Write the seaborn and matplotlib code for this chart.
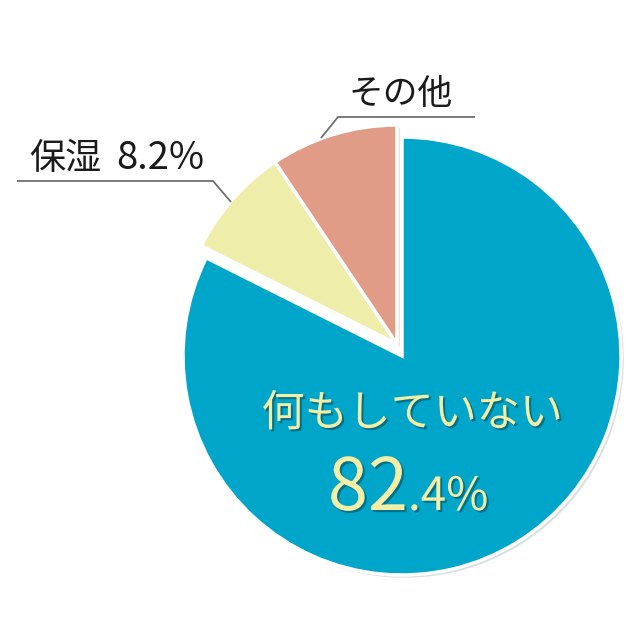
import matplotlib
matplotlib.use("Agg")
import matplotlib.pyplot as plt
import matplotlib.patheffects as pe
import seaborn as sns

# data
labels = ["何もしていない", "保湿", "その他"]
shares = [82.4, 8.2, 9.4]
colors = ["#00A6C9", "#EEEDA9", "#E09C86"]

sns.set_theme(style="white")
plt.rcParams["font.family"] = ["Noto Sans CJK JP", "DejaVu Sans"]

W, H = 642, 639
fig = plt.figure(figsize=(W / 100, H / 100), dpi=100)
ax = fig.add_axes([0, 0, 1, 1])

# pie in pixel units, starts at 12 o'clock going clockwise
cx, cy, r = 402, H - 356, 219
wedges, _ = ax.pie(
    shares, colors=colors, startangle=90, counterclock=False,
    center=(cx, cy), radius=r, frame=True,
    wedgeprops=dict(edgecolor="white", linewidth=2.5),
)
ax.set_xlim(0, W)
ax.set_ylim(0, H)
ax.set_aspect("equal")
ax.axis("off")

# the two small slices are pulled out together
shift = (-5, 12)
for w in wedges[1:]:
    w.set_center((cx + shift[0], cy + shift[1]))
for w in wedges:
    w.set_path_effects([pe.SimplePatchShadow(offset=(2, -2), alpha=0.15), pe.Normal()])

# leader lines
line_kw = dict(color="#707070", lw=1.3, solid_capstyle="butt")
ax.plot([321, 338, 475], [H - 138, H - 117, H - 117], **line_kw)
ax.plot([17, 213, 231], [H - 181, H - 181, H - 202], **line_kw)

# outside labels
ax.text(401, H - 104, labels[2], fontsize=25, color="#1a1a1a",
        ha="center", va="baseline")
ax.text(29, H - 169, labels[1], fontsize=26, color="#1a1a1a",
        ha="left", va="baseline")
ax.text(116, H - 169, f"{shares[1]}%", fontsize=27.5, color="#1a1a1a",
        ha="left", va="baseline")

# label inside the big slice
txt_color = "#F3EFA6"
shadow = [pe.SimplePatchShadow(offset=(1.5, -1.5), shadow_rgbFace="#003040", alpha=0.45),
          pe.Normal()]
ax.text(412, H - 426, labels[0], fontsize=31, color=txt_color,
        ha="center", va="baseline", path_effects=shadow)
whole, frac = f"{shares[0]:.1f}".split(".")
ax.text(408, H - 510, whole, fontsize=52, color=txt_color,
        ha="right", va="baseline", path_effects=shadow)
ax.text(408, H - 510, f".{frac}%", fontsize=33, color=txt_color,
        ha="left", va="baseline", path_effects=shadow)

fig.savefig("out.png", dpi=100, facecolor="white")
